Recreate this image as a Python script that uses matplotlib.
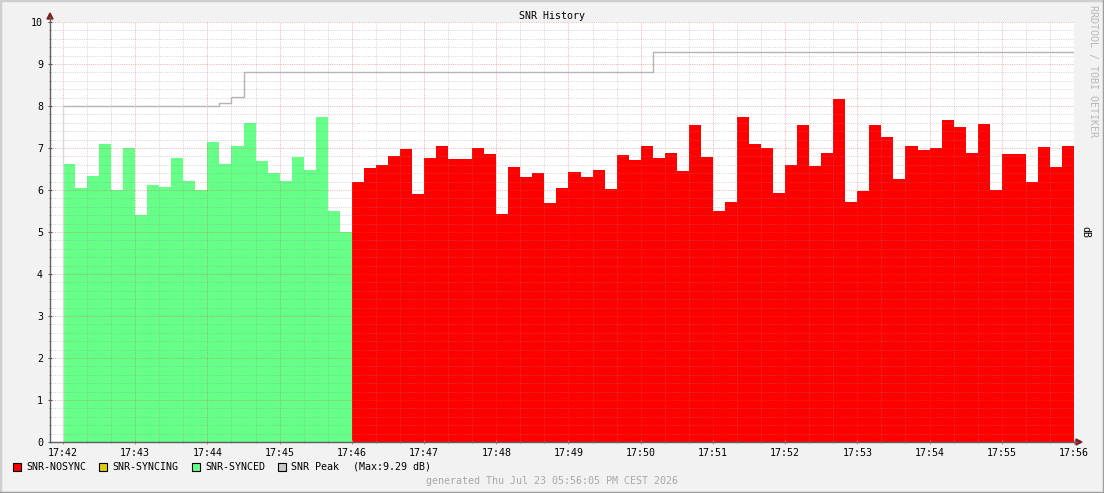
import numpy as np
import matplotlib.pyplot as plt
from matplotlib.lines import Line2D
from matplotlib.patches import Rectangle, Polygon

W, H = 1104, 493
STEP = 10  # seconds per sample

# SNR samples (dB), 10 s apart starting 17:42:00
snr_synced = [6.62, 6.05, 6.34, 7.10, 6.01, 7.00, 5.41, 6.13, 6.08, 6.77,
              6.22, 5.99, 7.15, 6.62, 7.05, 7.60, 6.68, 6.40, 6.22, 6.79,
              6.48, 7.74, 5.51, 5.01]
snr_nosync = [6.19, 6.52, 6.60, 6.82, 6.98, 5.91, 6.77, 7.05, 6.74, 6.74,
              7.00, 6.86, 5.42, 6.55, 6.31, 6.40, 5.69, 6.05, 6.43, 6.31,
              6.48, 6.02, 6.83, 6.71, 7.05, 6.76, 6.88, 6.45, 7.55, 6.79,
              5.50, 5.71, 7.74, 7.10, 7.00, 5.94, 6.60, 7.55, 6.57, 6.88,
              8.17, 5.71, 5.98, 7.55, 7.26, 6.26, 7.05, 6.95, 7.00, 7.67,
              7.50, 6.88, 7.57, 6.00, 6.86, 6.86, 6.19, 7.02, 6.55, 7.05]
# (sample index where peak changes, new peak value)
peak_changes = [(0, 8.00), (13, 8.07), (14, 8.22), (15, 8.82), (49, 9.29)]
peak_max = 9.29

tick_labels = ['17:%02d' % m for m in range(42, 57)]
legend_items = [('SNR-NOSYNC', '#FF0000'), ('SNR-SYNCING', '#DDCC11'),
                ('SNR-SYNCED', '#66FF88'), ('SNR Peak', '#C8C8C8')]
legend_x = [13, 99, 192, 278]

plt.rcParams['font.family'] = ['DejaVu Sans Mono']
plt.rcParams['font.size'] = 7.2


def fx(x):
    return x / W


def fy(y):
    return 1 - y / H


n = len(snr_synced) + len(snr_nosync)
edges = np.arange(n + 1) * STEP
n_syn = len(snr_synced)

peak = np.zeros(n)
for idx, val in peak_changes:
    peak[idx:] = val

fig = plt.figure(figsize=(W / 100, H / 100), dpi=100, facecolor='#F2F2F2')
ax = fig.add_axes([fx(50), fy(442), fx(1074) - fx(50), fy(22) - fy(442)])
ax.set_facecolor('white')

ax.stairs(snr_synced, edges[:n_syn + 1], fill=True, color='#66FF88', lw=0)
ax.stairs(snr_nosync, edges[n_syn:], fill=True, color='#FF0000', lw=0)

ax.step(edges, np.append(peak, peak[-1]), where='post', color='#B4B4B4', lw=1, zorder=3)
ax.vlines(edges[0], 0, peak[0], color='#D8D8D8', lw=1, zorder=3)

left = -STEP * 13 / 12.04
ax.set_xlim(left, edges[-1])
ax.set_ylim(0, 10)

ax.set_xticks(np.arange(len(tick_labels)) * 60)
ax.set_xticklabels(tick_labels)
ax.set_xticks(np.arange(0, edges[-1] + 1, 20), minor=True)
ax.set_yticks(np.arange(0, 11))
ax.set_yticks(np.arange(0, 10.01, 0.2), minor=True)

ax.set_axisbelow(False)
ax.grid(which='major', color=(0.87, 0.31, 0.31), alpha=0.45, lw=0.7, ls=(0, (1, 1.3)))
ax.grid(which='minor', color=(0.56, 0.56, 0.56), alpha=0.38, lw=0.7, ls=(0, (1, 1.3)))

ax.tick_params(axis='x', which='major', direction='inout', length=3, width=0.8,
               color='#E08080', pad=2.5, labelsize=7.2)
ax.tick_params(axis='x', which='minor', direction='inout', length=2, width=0.6, color='#999999')
ax.tick_params(axis='y', which='major', direction='inout', length=3, width=0.8,
               color='#555555', pad=3.5, labelsize=7.2)
ax.tick_params(axis='y', which='minor', direction='inout', length=2, width=0.6, color='#888888')
for s in ax.spines.values():
    s.set_visible(False)

# axes lines with arrows
axis_col = '#606060'
arrow_col = '#801F1F'
fig.add_artist(Line2D([fx(50), fx(50)], [fy(442), fy(17)], color=axis_col, lw=1))
fig.add_artist(Line2D([fx(50), fx(1077)], [fy(442), fy(442)], color=axis_col, lw=1))
fig.add_artist(Polygon([[fx(47), fy(19)], [fx(53), fy(19)], [fx(50), fy(13)]],
                       closed=True, color=arrow_col, transform=fig.transFigure))
fig.add_artist(Polygon([[fx(1076), fy(439)], [fx(1076), fy(445)], [fx(1082), fy(442)]],
                       closed=True, color=arrow_col, transform=fig.transFigure))

fig.text(fx(552), fy(16), 'SNR History', ha='center', va='center')
fig.text(fx(1093), fy(5), 'RRDTOOL / TOBI OETIKER', rotation=270, ha='center', va='top',
         color='#B8B8B8')
fig.text(fx(1085.5), fy(232), 'dB', rotation=270, ha='center', va='center')

for (label, col), x0 in zip(legend_items, legend_x):
    fig.add_artist(Rectangle((fx(x0), fy(471)), 8 / W, 8 / H, facecolor=col,
                             edgecolor='black', lw=0.8, transform=fig.transFigure))
    fig.text(fx(x0 + 13), fy(466.5), label, ha='left', va='center')
fig.text(fx(353), fy(466.5), '(Max:%.2f dB)' % peak_max, ha='left', va='center')

fig.text(fx(552), fy(481), 'generated Thu Jul 23 05:56:05 PM CEST 2026', ha='center',
         va='center', color='#A8A8A8')

# outer bevel frame
fig.add_artist(Line2D([0, 0, 1], [0, 1, 1], color='#CFCFCF', lw=2.5))
fig.add_artist(Line2D([0, 1, 1], [0, 0, 1], color='#9E9E9E', lw=2.5))

fig.savefig('out.png', dpi=100, facecolor=fig.get_facecolor())
